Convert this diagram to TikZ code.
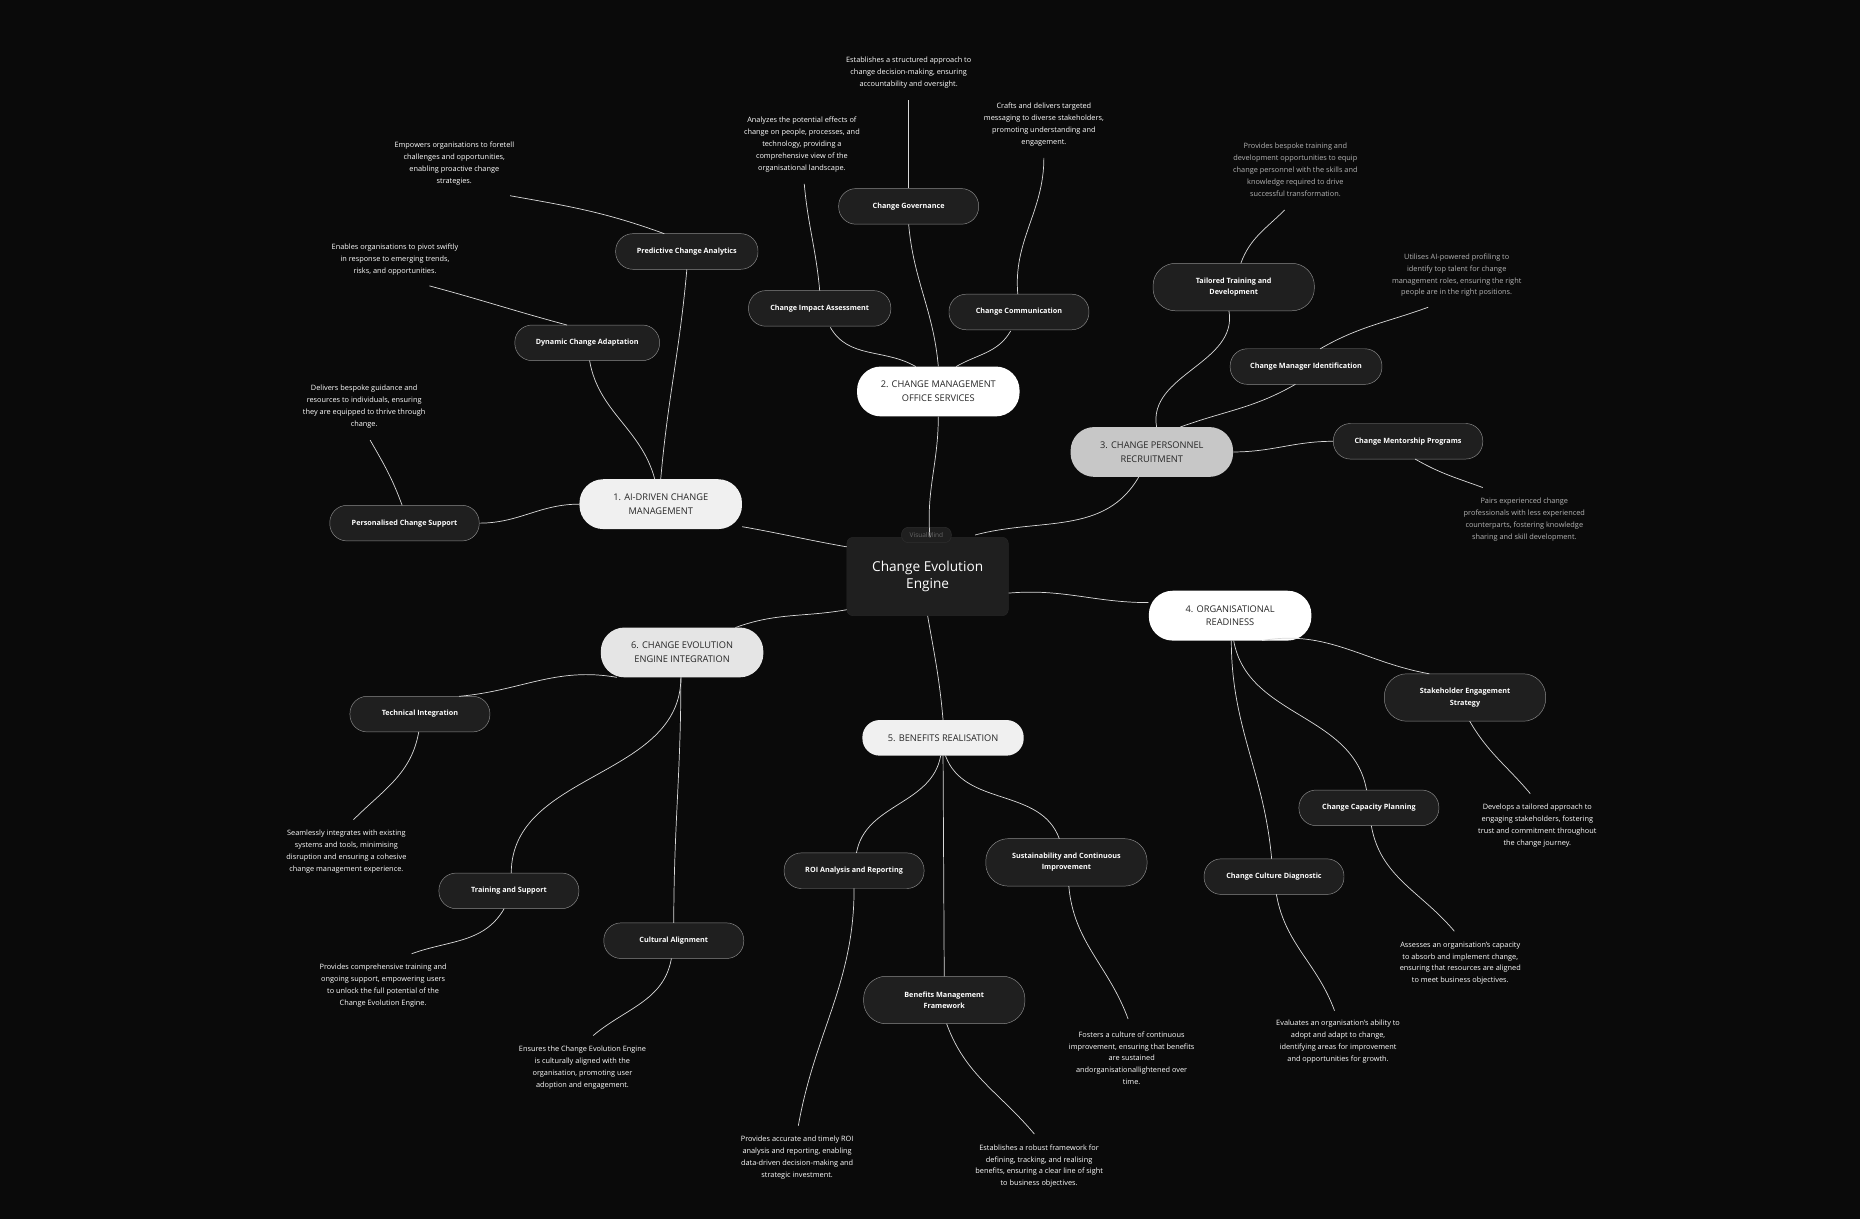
\documentclass[tikz,border=0pt]{standalone}
\usepackage{fontspec}
\setmainfont{Open Sans}
\definecolor{bg}{HTML}{0A0A0A}
\definecolor{subfill}{HTML}{1F1F1F}
\definecolor{subdraw}{HTML}{8A8A8A}
\definecolor{descgrey}{HTML}{B4B4B4}
\begin{document}
\begin{tikzpicture}[x=1pt,y=-1pt,
  edge/.style={draw=white!85!black,line width=0.6pt},
  mainbox/.style={rounded corners=20pt,minimum height=42pt,minimum width=137pt,align=center,text=black!85,font=\fontsize{7.8}{11.5}\selectfont,inner sep=2pt},
  subbox/.style={draw=subdraw,fill=subfill,rounded corners=14.5pt,minimum height=30pt,align=center,text=white,font=\bfseries\fontsize{6.1}{9.5}\selectfont,inner sep=2pt},
  subbig/.style={subbox,minimum width=136pt,minimum height=40pt,rounded corners=19pt},
  desc/.style={align=center,text=white,font=\fontsize{6.2}{10}\selectfont,inner sep=3pt},
  gdesc/.style={desc,text=descgrey}]
\fill[bg] (0,0) rectangle (1568,1028);
\useasboundingbox (0,0) rectangle (1568,1028);

% center
\node[fill=black!88,draw=white!15!black,rounded corners=5pt,minimum width=136pt,minimum height=66pt,align=center,text=white,font=\fontsize{11.5}{14.5}\selectfont] (c) at (782,486) {Change Evolution\\Engine};
\node[fill=black!88,draw=white!18!black,rounded corners=6pt,minimum width=42pt,minimum height=13pt,text=white!40!black,font=\fontsize{5.5}{7}\selectfont,inner sep=1pt] (tag) at (781,451) {VisualMind};

% main topics
\node[mainbox,fill=white!94!black] (m1) at (557,425) {1. AI-DRIVEN CHANGE\\MANAGEMENT};
\node[mainbox,fill=white] (m2) at (791,330) {2. CHANGE MANAGEMENT\\OFFICE SERVICES};
\node[mainbox,fill=white!78!black] (m3) at (971,381) {3. CHANGE PERSONNEL\\RECRUITMENT};
\node[mainbox,fill=white] (m4) at (1037,519) {4. ORGANISATIONAL\\READINESS};
\node[mainbox,fill=white!94!black,minimum height=30pt,minimum width=136pt,rounded corners=14.5pt] (m5) at (795,622) {5. BENEFITS REALISATION};
\node[mainbox,fill=white!90!black] (m6) at (575,550) {6. CHANGE EVOLUTION\\ENGINE INTEGRATION};

% sub nodes
\node[subbox,minimum width=120pt] (s11) at (579,212) {Predictive Change Analytics};
\node[subbox,minimum width=122pt] (s12) at (495,289) {Dynamic Change Adaptation};
\node[subbox,minimum width=126pt] (s13) at (341,441) {Personalised Change Support};
\node[subbox,minimum width=118pt] (s21) at (766,174) {Change Governance};
\node[subbox,minimum width=120pt] (s22) at (691,260) {Change Impact Assessment};
\node[subbox,minimum width=118pt] (s23) at (859,263) {Change Communication};
\node[subbig] (s31) at (1040,242) {Tailored Training and\\Development};
\node[subbox,minimum width=128pt] (s32) at (1101,309) {Change Manager Identification};
\node[subbox,minimum width=126pt] (s33) at (1187,372) {Change Mentorship Programs};
\node[subbig] (s41) at (1235,588) {Stakeholder Engagement\\Strategy};
\node[subbox,minimum width=118pt] (s42) at (1154,681) {Change Capacity Planning};
\node[subbox,minimum width=118pt] (s43) at (1074,739) {Change Culture Diagnostic};
\node[subbox,minimum width=118pt] (s51) at (720,734) {ROI Analysis and Reporting};
\node[subbig] (s52) at (899,727) {Sustainability and Continuous\\Improvement};
\node[subbig] (s53) at (796,843) {Benefits Management\\Framework};
\node[subbox,minimum width=118pt] (s61) at (354,602) {Technical Integration};
\node[subbox,minimum width=118pt] (s62) at (429,751) {Training and Support};
\node[subbox,minimum width=118pt] (s63) at (568,793) {Cultural Alignment};

% descriptions
\node[desc] (d11) at (383,138) {Empowers organisations to foretell\\challenges and opportunities,\\enabling proactive change\\strategies.};
\node[desc] (d12) at (333,219) {Enables organisations to pivot swiftly\\in response to emerging trends,\\risks, and opportunities.};
\node[desc] (d13) at (307,343) {Delivers bespoke guidance and\\resources to individuals, ensuring\\they are equipped to thrive through\\change.};
\node[desc] (d21) at (766,61) {Establishes a structured approach to\\change decision-making, ensuring\\accountability and oversight.};
\node[desc] (d22) at (676,122) {Analyzes the potential effects of\\change on people, processes, and\\technology, providing a\\comprehensive view of the\\organisational landscape.};
\node[desc] (d23) at (880,105) {Crafts and delivers targeted\\messaging to diverse stakeholders,\\promoting understanding and\\engagement.};
\node[gdesc] (d31) at (1092,143) {Provides bespoke training and\\development opportunities to equip\\change personnel with the skills and\\knowledge required to drive\\successful transformation.};
\node[gdesc] (d32) at (1228,232) {Utilises AI-powered profiling to\\identify top talent for change\\management roles, ensuring the right\\people are in the right positions.};
\node[gdesc] (d33) at (1285,438) {Pairs experienced change\\professionals with less experienced\\counterparts, fostering knowledge\\sharing and skill development.};
\node[desc] (d41) at (1296,696) {Develops a tailored approach to\\engaging stakeholders, fostering\\trust and commitment throughout\\the change journey.};
\node[desc] (d42) at (1231,812) {Assesses an organisation's capacity\\to absorb and implement change,\\ensuring that resources are aligned\\to meet business objectives.};
\node[desc] (d43) at (1128,878) {Evaluates an organisation's ability to\\adopt and adapt to change,\\identifying areas for improvement\\and opportunities for growth.};
\node[desc] (d51) at (672,976) {Provides accurate and timely ROI\\analysis and reporting, enabling\\data-driven decision-making and\\strategic investment.};
\node[desc] (d52) at (954,892) {Fosters a culture of continuous\\improvement, ensuring that benefits\\are sustained\\andorganisationallightened over\\time.};
\node[desc] (d53) at (876,983) {Establishes a robust framework for\\defining, tracking, and realising\\benefits, ensuring a clear line of sight\\to business objectives.};
\node[desc] (d61) at (292,718) {Seamlessly integrates with existing\\systems and tools, minimising\\disruption and ensuring a cohesive\\change management experience.};
\node[desc] (d62) at (323,831) {Provides comprehensive training and\\ongoing support, empowering users\\to unlock the full potential of the\\Change Evolution Engine.};
\node[desc] (d63) at (491,900) {Ensures the Change Evolution Engine\\is culturally aligned with the\\organisation, promoting user\\adoption and engagement.};

% description end points
\coordinate (e11) at (430,165); \coordinate (e12) at (362,241); \coordinate (e13) at (312,371);
\coordinate (e21) at (766,84); \coordinate (e22) at (678,155); \coordinate (e23) at (880,133);
\coordinate (e31) at (1083,177); \coordinate (e32) at (1204,259); \coordinate (e33) at (1250,411);
\coordinate (e41) at (1290,669); \coordinate (e42) at (1226,785); \coordinate (e43) at (1125,852);
\coordinate (e51) at (673,949); \coordinate (e52) at (951,859); \coordinate (e53) at (872,956);
\coordinate (e61) at (298,691); \coordinate (e62) at (347,804); \coordinate (e63) at (500,873);

\begin{scope}[edge]
% center to main
\draw (c.west |- 0,461) to[out=170,in=-10] (m1.east |- 0,444);
\draw (784,453) to[out=95,in=-90] (m2.south);
\draw (822,451) to[out=15,in=-120] (960,402);
\draw (c.east |- 0,500) to[out=5,in=180] (m4.west |- 0,508);
\draw (c.south) to[out=-80,in=95] (m5.north);
\draw (c.west |- 0,514) to[out=190,in=20] (620,529);
% main to sub
\draw (m1.north) to[out=85,in=-95] (s11.south);
\draw (552,404) to[out=105,in=-80] (497,304);
\draw (m1.west) to[out=180,in=0] (s13.east);
\draw (m2.north) to[out=95,in=-85] (s21.south);
\draw (772,309) to[out=150,in=-60] (700,276);
\draw (806,309) to[out=30,in=-120] (852,279);
\draw (975,360) to[out=100,in=-80] (1036,262);
\draw (995,360) to[out=20,in=-150] (1092,324);
\draw (m3.east) to[out=0,in=180] (s33.west);
\draw (1064,540) to[out=10,in=170] (1205,568);
\draw (1040,540) to[out=-80,in=100] (1152,666);
\draw (1038,540) to[out=-90,in=95] (1072,724);
\draw (793,637) to[out=-100,in=80] (722,719);
\draw (797,637) to[out=-70,in=110] (893,707);
\draw (795,637) -- (796,823);
\draw (520,571) to[out=170,in=5] (387,587);
\draw (574,571) to[out=-90,in=90] (431,736);
\draw (574,571) to[out=-90,in=90] (568,778);
% sub to descriptions
\draw (560,197) to[out=160,in=-10] (e11);
\draw (478,274) to[out=165,in=-15] (e12);
\draw (339,426) to[out=110,in=-60] (e13);
\draw (s21.north) -- (e21);
\draw (691,245) to[out=95,in=-85] (e22);
\draw (858,248) to[out=95,in=-90] (e23);
\draw (1046,222) to[out=70,in=-135] (e31);
\draw (1113,294) to[out=30,in=-160] (e32);
\draw (1193,387) to[out=-30,in=160] (e33);
\draw (1239,608) to[out=-60,in=130] (e41);
\draw (1156,696) to[out=-80,in=130] (e42);
\draw (1076,754) to[out=-80,in=110] (e43);
\draw (720,749) to[out=-90,in=80] (e51);
\draw (901,747) to[out=-85,in=110] (e52);
\draw (798,863) to[out=-70,in=130] (e53);
\draw (353,617) to[out=-100,in=45] (e61);
\draw (425,766) to[out=-120,in=20] (e62);
\draw (566,808) to[out=-100,in=40] (e63);
\end{scope}
\end{tikzpicture}
\end{document}
